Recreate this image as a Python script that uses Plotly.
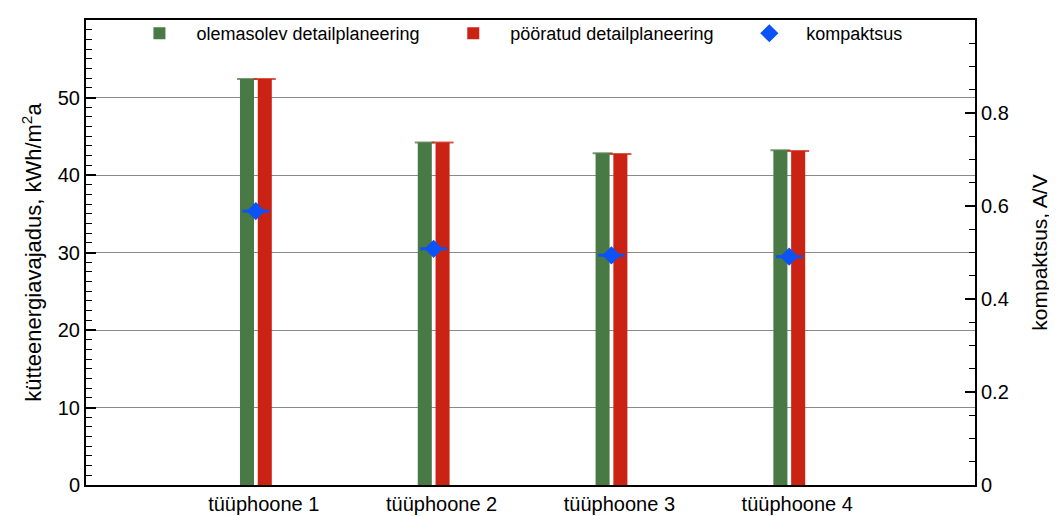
import plotly.graph_objects as go
import numpy as np

categories = ["tüüphoone 1", "tüüphoone 2", "tüüphoone 3", "tüüphoone 4"]
olemasolev = [52.4, 44.2, 42.8, 43.2]
pooratud = [52.4, 44.2, 42.7, 43.1]
kompaktsus = [0.589, 0.508, 0.494, 0.491]
left_ticks = [0, 10, 20, 30, 40, 50]
right_ticks = [0, 0.2, 0.4, 0.6, 0.8]
right_ticktext = ["0", "0.2", "0.4", "0.6", "0.8"]

pos = np.arange(1, len(categories) + 1)
FONT = "Liberation Sans, Arial, Helvetica, sans-serif"
GREEN = "#497A46"
RED = "#CB2313"
BLUE = "#0B52F7"

fig = go.Figure()
fig.add_trace(go.Bar(
    x=pos, y=olemasolev, name="olemasolev detailplaneering", legend="legend",
    offset=-0.134, width=0.079, marker=dict(color=GREEN, line=dict(width=0)),
    error_y=dict(type="data", array=[0] * len(pos), width=10, thickness=2,
                 color="rgba(73,122,70,0.75)"),
))
fig.add_trace(go.Bar(
    x=pos, y=pooratud, name="pööratud detailplaneering", legend="legend2",
    offset=-0.034, width=0.079, marker=dict(color=RED, line=dict(width=0)),
    error_y=dict(type="data", array=[0] * len(pos), width=11, thickness=2,
                 color="rgba(203,35,19,0.75)"),
))
fig.add_trace(go.Scatter(
    x=pos - 0.045, y=kompaktsus, name="kompaktsus", mode="markers", yaxis="y2",
    legend="legend3",
    marker=dict(symbol="diamond", size=14, color=BLUE),
    error_x=dict(type="data", array=[0.075] * len(pos), width=0, thickness=3, color=BLUE),
))

def leg(xfrac):
    return dict(orientation="h", x=xfrac, xanchor="left", y=1.0106, yanchor="top",
                bgcolor="rgba(0,0,0,0)", font=dict(size=18), itemwidth=64)

fig.update_layout(
    width=1049, height=508,
    margin=dict(l=78, r=82, t=7, b=31),
    paper_bgcolor="white", plot_bgcolor="white",
    barmode="overlay",
    font=dict(family=FONT, size=20, color="black"),
    showlegend=True,
    legend=leg(0.041), legend2=leg(0.394), legend3=leg(0.727),
    xaxis=dict(range=[0, 5], tickvals=pos, ticktext=categories, showgrid=False,
               showline=True, linecolor="black", linewidth=2, mirror=True,
               ticks="", zeroline=False, tickfont=dict(size=20), automargin=False),
    yaxis=dict(range=[0, 60], tickvals=left_ticks, showgrid=True, gridcolor="#8a8a8a",
               gridwidth=1, showline=True, linecolor="black", linewidth=2,
               ticks="inside", ticklen=10, tickwidth=2, tickcolor="black",
               minor=dict(dtick=1.25, ticks="inside", ticklen=6, tickwidth=1,
                          tickcolor="black", showgrid=False),
               zeroline=False, tickfont=dict(size=20), automargin=False,
               title=dict(text="kütteenergiavajadus, kWh/m<sup>2</sup>a",
                          font=dict(size=22), standoff=10)),
    yaxis2=dict(range=[0, 1], overlaying="y", side="right", tickvals=right_ticks,
                ticktext=right_ticktext, showgrid=False, showline=True,
                linecolor="black", linewidth=2, ticks="inside", ticklen=10,
                tickwidth=2, tickcolor="black",
                minor=dict(dtick=0.05, ticks="inside", ticklen=6, tickwidth=1,
                           tickcolor="black"),
                zeroline=False, tickfont=dict(size=20), automargin=False,
                title=dict(text="kompaktsus, A/V", font=dict(size=21), standoff=24)),
)

fig.write_html("out.html")
